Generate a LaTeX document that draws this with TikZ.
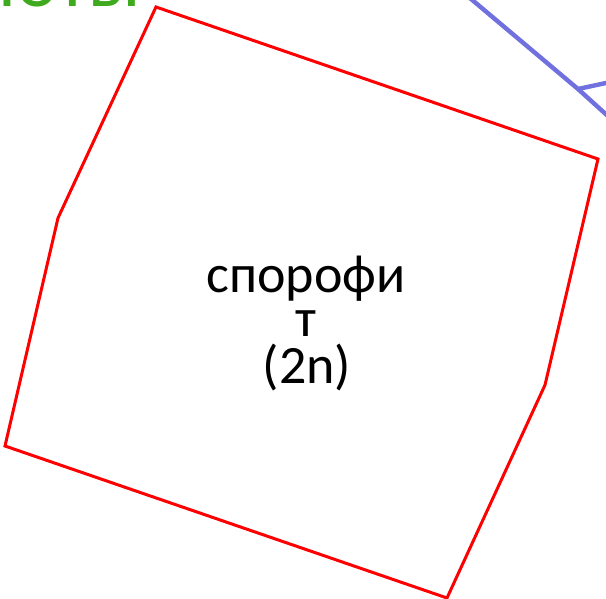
\documentclass[tikz,border=0pt]{standalone}
\usepackage{fontspec}
\setmainfont{Carlito}
\definecolor{polyred}{RGB}{255,0,0}
\definecolor{linkblue}{RGB}{112,112,222}
\definecolor{labelgreen}{RGB}{64,170,30}
\begin{document}
\begin{tikzpicture}[x=1pt,y=-1pt,
  polyedge/.style={draw=polyred,line width=3pt,line join=miter},
  linkline/.style={draw=linkblue,line width=4.4pt},
  maintext/.style={font=\fontsize{54}{45}\selectfont,inner sep=0pt,anchor=base},
  greentext/.style={font=\fontsize{79}{80}\selectfont,text=labelgreen,inner sep=0pt,anchor=base east}]
\useasboundingbox (0,0) rectangle (606,599);
\clip (0,0) rectangle (606,599);
% polygon corners
\coordinate (p1) at (156,7);
\coordinate (p2) at (598,159);
\coordinate (p3) at (545,385);
\coordinate (p4) at (447,598);
\coordinate (p5) at (5,446);
\coordinate (p6) at (58,218);
\draw[polyedge] (p1) -- (p2) -- (p3) -- (p4) -- (p5) -- (p6) -- cycle;
% blue connectors
\coordinate (b0) at (458,-12);
\coordinate (bj) at (578,89);
\coordinate (b1) at (620,127);
\coordinate (b2) at (620,80);
\draw[linkline] (b0) -- (bj) -- (b1);
\draw[linkline] (bj) -- (b2);
% texts
\node[maintext] (l1) at (306,293) {спорофи};
\node[maintext] (l2) at (306,337) {т};
\node[maintext] (l3) at (307,383) {(2n)};
\node[greentext] (g) at (141,7) {эукариоты};
\end{tikzpicture}
\end{document}
